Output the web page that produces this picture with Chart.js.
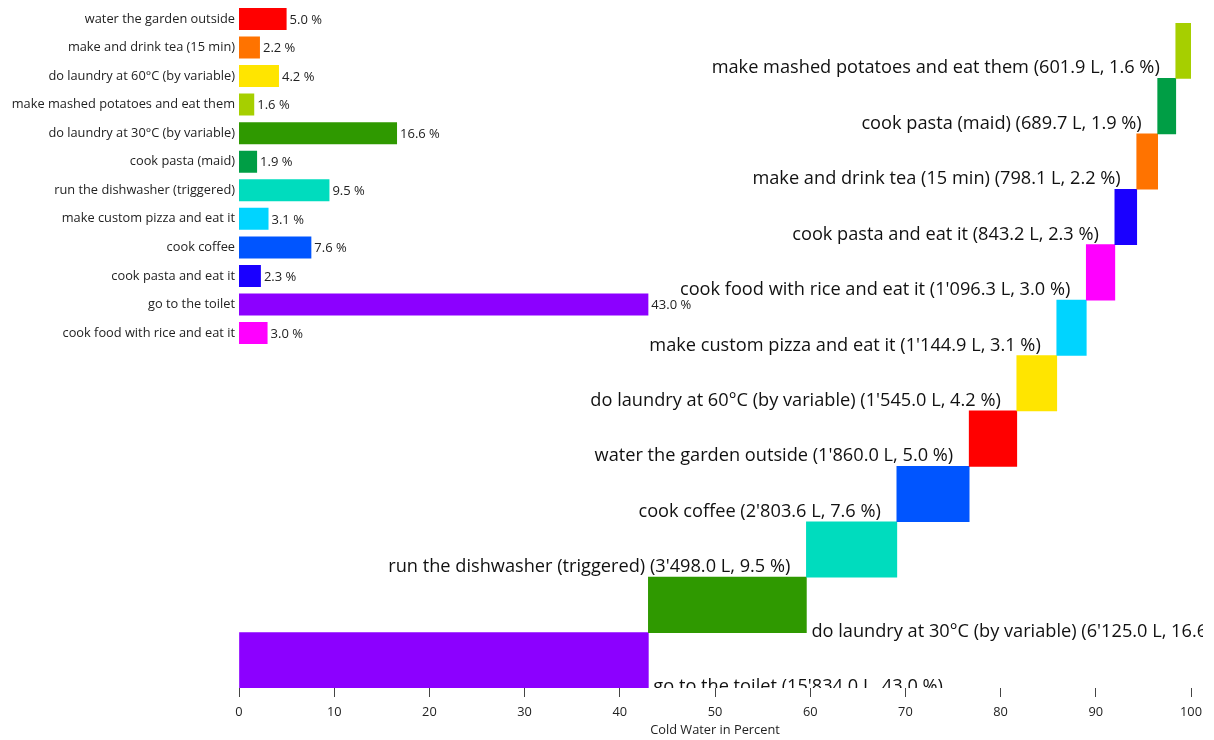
<!DOCTYPE html>
<html>
<head>
<meta charset="utf-8">
<script src="https://cdn.jsdelivr.net/npm/chart.js@4"></script>
<style>
  body { margin: 0; background: #fff; }
  #wrap { position: relative; width: 1214px; height: 740px; overflow: hidden; }
  #mainChart { position: absolute; left: 0; top: 0; }
  #insetChart { position: absolute; left: 0; top: -7px; }
</style>
</head>
<body>
<div id="wrap">
  <canvas id="mainChart" width="1214" height="740"></canvas>
  <canvas id="insetChart" width="1214" height="366"></canvas>
</div>
<script>
// waterfall, bottom to top
const mainCats = ['go to the toilet', 'do laundry at 30°C (by variable)', 'run the dishwasher (triggered)', 'cook coffee',
  'water the garden outside', 'do laundry at 60°C (by variable)', 'make custom pizza and eat it',
  'cook food with rice and eat it', 'cook pasta and eat it', 'make and drink tea (15 min)', 'cook pasta (maid)',
  'make mashed potatoes and eat them'];
const mainLiters = [15834.0, 6125.0, 3498.0, 2803.6, 1860.0, 1545.0, 1144.9, 1096.3, 843.2, 798.1, 689.7, 601.9];
const mainPct = [43.0, 16.6, 9.5, 7.6, 5.0, 4.2, 3.1, 3.0, 2.3, 2.2, 1.9, 1.6];

// small chart top left, top to bottom
const insetCats = ['water the garden outside', 'make and drink tea (15 min)', 'do laundry at 60°C (by variable)',
  'make mashed potatoes and eat them', 'do laundry at 30°C (by variable)', 'cook pasta (maid)',
  'run the dishwasher (triggered)', 'make custom pizza and eat it', 'cook coffee', 'cook pasta and eat it',
  'go to the toilet', 'cook food with rice and eat it'];
const insetPct = [5.0, 2.2, 4.2, 1.6, 16.6, 1.9, 9.5, 3.1, 7.6, 2.3, 43.0, 3.0];

const xTicks = [0, 10, 20, 30, 40, 50, 60, 70, 80, 90, 100];

const colors = {
  'go to the toilet': '#8c00ff',
  'do laundry at 30°C (by variable)': '#2f9900',
  'run the dishwasher (triggered)': '#00dcbe',
  'cook coffee': '#0055ff',
  'water the garden outside': '#ff0000',
  'do laundry at 60°C (by variable)': '#ffe500',
  'make custom pizza and eat it': '#00d4ff',
  'cook food with rice and eat it': '#ff00ff',
  'cook pasta and eat it': '#1a00ff',
  'make and drink tea (15 min)': '#ff7300',
  'cook pasta (maid)': '#009e45',
  'make mashed potatoes and eat them': '#a6cf00'
};

const FONT = '"Open Sans", "Noto Sans", sans-serif';
Chart.defaults.font.family = FONT;
Chart.defaults.color = '#222';

function fmtLiters(v) {
  const s = v.toFixed(1);
  const [a, b] = s.split('.');
  return a.replace(/\B(?=(\d{3})+(?!\d))/g, "'") + '.' + b;
}

// floating bars from running total
let acc = 0;
const ranges = mainPct.map(p => { const r = [acc, acc + p]; acc += p; return r; });

const mainLabels = {
  id: 'mainLabels',
  afterDatasetsDraw(chart) {
    const ctx = chart.ctx;
    const area = chart.chartArea;
    const meta = chart.getDatasetMeta(0);
    ctx.save();
    ctx.beginPath();
    ctx.rect(0, area.top, 1203, area.bottom - area.top);
    ctx.clip();
    ctx.font = '18.2px ' + FONT;
    ctx.fillStyle = '#111';
    ctx.textBaseline = 'alphabetic';
    meta.data.forEach((bar, i) => {
      const txt = mainCats[i] + ' (' + fmtLiters(mainLiters[i]) + ' L, ' + mainPct[i].toFixed(1) + ' %)';
      const bottom = bar.y + bar.height / 2;
      if (i < 2) {
        ctx.textAlign = 'left';
        ctx.fillText(txt, bar.x + 5, bottom + 4);
      } else {
        ctx.textAlign = 'right';
        ctx.fillText(txt, bar.base - 16, bottom - 5);
      }
    });
    ctx.restore();
  }
};

new Chart(document.getElementById('mainChart'), {
  type: 'bar',
  data: {
    labels: mainCats,
    datasets: [{
      data: ranges,
      backgroundColor: mainCats.map(c => colors[c]),
      borderWidth: 0,
      barPercentage: 1,
      categoryPercentage: 1
    }]
  },
  options: {
    indexAxis: 'y',
    responsive: false,
    animation: false,
    devicePixelRatio: 1,
    layout: { padding: { left: 239, right: 23, top: 23, bottom: 0 } },
    plugins: { legend: { display: false }, tooltip: { enabled: false } },
    scales: {
      y: { display: false, reverse: true },
      x: {
        min: 0, max: 100,
        afterBuildTicks: s => { s.ticks = xTicks.map(v => ({ value: v })); },
        afterFit: s => { s.height = 52; },
        grid: { display: true, drawOnChartArea: false, drawTicks: true, tickLength: 9, color: '#444', tickWidth: 1 },
        border: { display: false },
        ticks: { font: { size: 12.8 }, color: '#222', padding: 8, maxRotation: 0 },
        title: { display: true, text: 'Cold Water in Percent', font: { size: 12.8 }, color: '#222', padding: { top: 0, bottom: 2 } }
      }
    }
  },
  plugins: [mainLabels]
});

const insetLabels = {
  id: 'insetLabels',
  afterDatasetsDraw(chart) {
    const ctx = chart.ctx;
    const meta = chart.getDatasetMeta(0);
    ctx.save();
    ctx.font = '13px ' + FONT;
    ctx.fillStyle = '#222';
    ctx.textAlign = 'left';
    ctx.textBaseline = 'middle';
    meta.data.forEach((bar, i) => {
      ctx.fillText(insetPct[i].toFixed(1) + ' %', bar.x + 3, bar.y + 1);
    });
    ctx.restore();
  }
};

new Chart(document.getElementById('insetChart'), {
  type: 'bar',
  data: {
    labels: insetCats,
    datasets: [{
      data: insetPct,
      backgroundColor: insetCats.map(c => colors[c]),
      borderWidth: 0,
      barPercentage: 0.77,
      categoryPercentage: 1
    }]
  },
  options: {
    indexAxis: 'y',
    responsive: false,
    animation: false,
    devicePixelRatio: 1,
    layout: { padding: { left: 0, right: 23, top: 0, bottom: 0 } },
    plugins: { legend: { display: false }, tooltip: { enabled: false } },
    scales: {
      x: { display: false, min: 0, max: 100 },
      y: {
        afterFit: s => { s.width = 239; },
        grid: { display: false, drawTicks: false, tickLength: 0 },
        border: { display: false },
        ticks: { font: { size: 12.8 }, color: '#222', padding: 4, autoSkip: false }
      }
    }
  },
  plugins: [insetLabels]
});
</script>
</body>
</html>
